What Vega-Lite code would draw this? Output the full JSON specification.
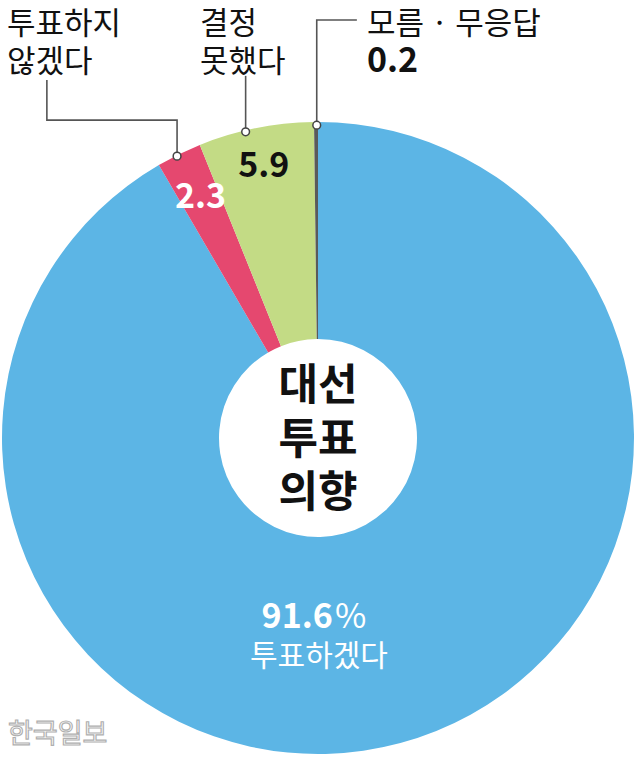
{
  "$schema": "https://vega.github.io/schema/vega-lite/v6.json",
  "width": 632,
  "height": 632,
  "autosize": {"type": "none"},
  "padding": {"left": 2, "top": 122, "right": 6, "bottom": 3},
  "background": "white",
  "config": {"view": {"stroke": null}},
  "datasets": {
    "slices": [
      {"category": "투표하겠다", "value": 91.6, "rank": 1, "label": ""},
      {"category": "투표하지 않겠다", "value": 2.3, "rank": 2, "label": "2.3"},
      {"category": "결정 못했다", "value": 5.9, "rank": 3, "label": "5.9"},
      {"category": "모름·무응답", "value": 0.2, "rank": 4, "label": ""}
    ],
    "leaders": [
      {"g": "gray", "o": 1, "u": -0.004, "v": 0.99},
      {"g": "gray", "o": 2, "u": -0.004, "v": 1.3228},
      {"g": "gray", "o": 3, "u": 0.123, "v": 1.3228},
      {"g": "green", "o": 1, "u": -0.229, "v": 0.969},
      {"g": "green", "o": 2, "u": -0.229, "v": 1.146},
      {"g": "red", "o": 1, "u": -0.446, "v": 0.892},
      {"g": "red", "o": 2, "u": -0.446, "v": 1.006},
      {"g": "red", "o": 3, "u": -0.858, "v": 1.006},
      {"g": "red", "o": 4, "u": -0.858, "v": 1.133}
    ],
    "dots": [
      {"u": -0.004, "v": 0.99},
      {"u": -0.229, "v": 0.969},
      {"u": -0.446, "v": 0.892}
    ],
    "outerLabels": [
      {"t": "투표하지", "u": -0.9842, "v": 1.308},
      {"t": "않겠다", "u": -0.9842, "v": 1.186},
      {"t": "결정", "u": -0.3734, "v": 1.308},
      {"t": "못했다", "u": -0.3734, "v": 1.186},
      {"t": "모름 · 무응답", "u": 0.155, "v": 1.308}
    ],
    "outerValues": [
      {"t": "0.2", "u": 0.155, "v": 1.19}
    ],
    "centerLabels": [
      {"t": "대선", "u": 0.0, "v": 0.1614},
      {"t": "투표", "u": 0.0, "v": -0.0095},
      {"t": "의향", "u": 0.0, "v": -0.177}
    ],
    "mainPct": [{"t": "91.6", "u": 0.047, "v": -0.571}],
    "mainSign": [{"t": "%", "u": 0.054, "v": -0.571}],
    "mainName": [{"t": "투표하겠다", "u": 0.003, "v": -0.694}],
    "watermark": [{"t": "한국일보", "u": -0.981, "v": -0.94}]
  },
  "layer": [
    {
      "data": {"name": "slices"},
      "mark": {"type": "arc", "outerRadius": 316, "innerRadius": 99},
      "encoding": {
        "theta": {"field": "value", "type": "quantitative", "stack": true},
        "order": {"field": "rank", "type": "quantitative"},
        "color": {
          "field": "category",
          "type": "nominal",
          "scale": {
            "domain": ["투표하겠다", "투표하지 않겠다", "결정 못했다", "모름·무응답"],
            "range": ["#5cb5e5", "#e5486f", "#c3db85", "#5a5a5a"]
          },
          "legend": null
        }
      }
    },
    {
      "data": {"name": "slices"},
      "mark": {"type": "text", "radius": 267, "fontSize": 34, "fontWeight": "bold", "font": "Noto Sans CJK KR", "baseline": "middle", "align": "center", "color": "white"},
      "encoding": {
        "theta": {"field": "value", "type": "quantitative", "stack": true},
        "order": {"field": "rank", "type": "quantitative"},
        "text": {"condition": {"test": "datum.rank == 2", "field": "label"}, "value": ""}
      }
    },
    {
      "data": {"name": "slices"},
      "mark": {"type": "text", "radius": 276, "fontSize": 34, "fontWeight": "bold", "font": "Noto Sans CJK KR", "baseline": "middle", "align": "center", "color": "#111111"},
      "encoding": {
        "theta": {"field": "value", "type": "quantitative", "stack": true},
        "order": {"field": "rank", "type": "quantitative"},
        "text": {"condition": {"test": "datum.rank == 3", "field": "label"}, "value": ""}
      }
    },
    {
      "data": {"name": "leaders"},
      "mark": {"type": "line", "color": "#555555", "strokeWidth": 1.6},
      "encoding": {
        "x": {"field": "u", "type": "quantitative", "scale": {"domain": [-1, 1]}, "axis": null},
        "y": {"field": "v", "type": "quantitative", "scale": {"domain": [-1, 1]}, "axis": null},
        "detail": {"field": "g"},
        "order": {"field": "o", "type": "quantitative"}
      }
    },
    {
      "data": {"name": "dots"},
      "mark": {"type": "point", "filled": false, "fill": "white", "fillOpacity": 1, "stroke": "#444444", "strokeWidth": 1.5, "size": 60, "opacity": 1},
      "encoding": {
        "x": {"field": "u", "type": "quantitative", "scale": {"domain": [-1, 1]}, "axis": null},
        "y": {"field": "v", "type": "quantitative", "scale": {"domain": [-1, 1]}, "axis": null}
      }
    },
    {
      "data": {"name": "outerLabels"},
      "mark": {"type": "text", "align": "left", "baseline": "middle", "fontSize": 31, "font": "Noto Sans CJK KR", "color": "#111111"},
      "encoding": {
        "x": {"field": "u", "type": "quantitative", "scale": {"domain": [-1, 1]}, "axis": null},
        "y": {"field": "v", "type": "quantitative", "scale": {"domain": [-1, 1]}, "axis": null},
        "text": {"field": "t"}
      }
    },
    {
      "data": {"name": "outerValues"},
      "mark": {"type": "text", "align": "left", "baseline": "middle", "fontSize": 34, "fontWeight": "bold", "font": "Noto Sans CJK KR", "color": "#111111"},
      "encoding": {
        "x": {"field": "u", "type": "quantitative", "scale": {"domain": [-1, 1]}, "axis": null},
        "y": {"field": "v", "type": "quantitative", "scale": {"domain": [-1, 1]}, "axis": null},
        "text": {"field": "t"}
      }
    },
    {
      "data": {"name": "centerLabels"},
      "mark": {"type": "text", "align": "center", "baseline": "middle", "fontSize": 43, "fontWeight": "bold", "font": "Noto Sans CJK KR", "color": "#111111"},
      "encoding": {
        "x": {"field": "u", "type": "quantitative", "scale": {"domain": [-1, 1]}, "axis": null},
        "y": {"field": "v", "type": "quantitative", "scale": {"domain": [-1, 1]}, "axis": null},
        "text": {"field": "t"}
      }
    },
    {
      "data": {"name": "mainPct"},
      "mark": {"type": "text", "align": "right", "baseline": "middle", "fontSize": 34, "fontWeight": "bold", "font": "Noto Sans CJK KR", "color": "white"},
      "encoding": {
        "x": {"field": "u", "type": "quantitative", "scale": {"domain": [-1, 1]}, "axis": null},
        "y": {"field": "v", "type": "quantitative", "scale": {"domain": [-1, 1]}, "axis": null},
        "text": {"field": "t"}
      }
    },
    {
      "data": {"name": "mainSign"},
      "mark": {"type": "text", "align": "left", "baseline": "middle", "fontSize": 34, "fontWeight": "normal", "font": "Noto Sans CJK KR", "color": "white"},
      "encoding": {
        "x": {"field": "u", "type": "quantitative", "scale": {"domain": [-1, 1]}, "axis": null},
        "y": {"field": "v", "type": "quantitative", "scale": {"domain": [-1, 1]}, "axis": null},
        "text": {"field": "t"}
      }
    },
    {
      "data": {"name": "mainName"},
      "mark": {"type": "text", "align": "center", "baseline": "middle", "fontSize": 30, "font": "Noto Sans CJK KR", "color": "white"},
      "encoding": {
        "x": {"field": "u", "type": "quantitative", "scale": {"domain": [-1, 1]}, "axis": null},
        "y": {"field": "v", "type": "quantitative", "scale": {"domain": [-1, 1]}, "axis": null},
        "text": {"field": "t"}
      }
    },
    {
      "data": {"name": "watermark"},
      "mark": {"type": "text", "align": "left", "baseline": "middle", "fontSize": 27, "fontWeight": "normal", "font": "Noto Sans CJK KR", "fill": "white", "stroke": "#b0b0b0", "strokeWidth": 1.2},
      "encoding": {
        "x": {"field": "u", "type": "quantitative", "scale": {"domain": [-1, 1]}, "axis": null},
        "y": {"field": "v", "type": "quantitative", "scale": {"domain": [-1, 1]}, "axis": null},
        "text": {"field": "t"}
      }
    }
  ]
}
